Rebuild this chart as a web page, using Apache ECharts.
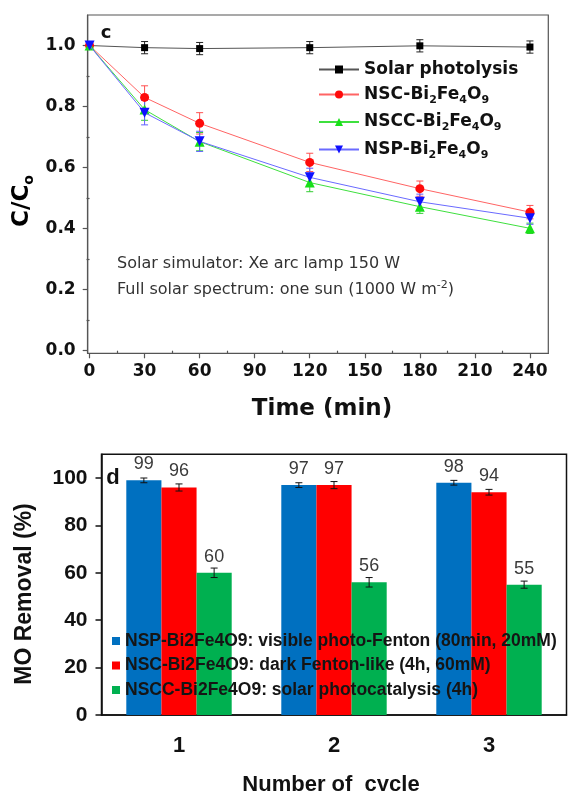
<!DOCTYPE html>
<html>
<head>
<meta charset="utf-8">
<script src="https://cdn.jsdelivr.net/npm/echarts@6/dist/echarts.min.js"></script>
<style>
  html, body { margin: 0; padding: 0; background: #fff; }
  #chart { width: 568px; height: 791px; }
</style>
</head>
<body>
<div id="chart"></div>
<script>
// ---- Panel c: photodegradation kinetics (C/C0 vs time) ----
const times = [0, 30, 60, 120, 180, 240];
const photolysis    = [1.0, 0.993, 0.990, 0.993, 0.999, 0.995];
const photolysisErr = [0, 0.02, 0.02, 0.02, 0.02, 0.02];
const nsc    = [1.0, 0.830, 0.745, 0.617, 0.531, 0.454];
const nscErr = [0, 0.038, 0.035, 0.030, 0.025, 0.022];
const nscc    = [1.0, 0.790, 0.685, 0.551, 0.472, 0.401];
const nsccErr = [0, 0.035, 0.030, 0.030, 0.022, 0.017];
const nsp    = [1.0, 0.780, 0.686, 0.568, 0.488, 0.434];
const nspErr = [0, 0.040, 0.033, 0.030, 0.025, 0.020];

const timeTicks = [0, 30, 60, 90, 120, 150, 180, 210, 240];
const timeMinorTicks = [15, 45, 75, 105, 135, 165, 195, 225];
const ratioTicks = [0, 0.2, 0.4, 0.6, 0.8, 1.0];
const ratioMinorTicks = [0.1, 0.3, 0.5, 0.7, 0.9];

// ---- Panel d: MO removal over reuse cycles ----
const cycles = ['1', '2', '3'];
const nspRemoval     = [99, 97, 98];
const nspRemovalErr  = [1.0, 1.0, 1.0];
const nscRemoval     = [96, 97, 94];
const nscRemovalErr  = [1.5, 1.5, 1.2];
const nsccRemoval    = [60, 56, 55];
const nsccRemovalErr = [2.0, 2.0, 1.5];
const removalTicks = [0, 20, 40, 60, 80, 100];

const lineNames = ['Solar photolysis', 'NSC-Bi2Fe4O9', 'NSCC-Bi2Fe4O9', 'NSP-Bi2Fe4O9'];
const barNames = [
  'NSP-Bi2Fe4O9: visible photo-Fenton (80min, 20mM)',
  'NSC-Bi2Fe4O9: dark Fenton-like (4h, 60mM)',
  'NSCC-Bi2Fe4O9: solar photocatalysis (4h)'
];

const WIDE = '"DejaVu Sans", sans-serif';
const ARIAL = '"Liberation Sans", Arial, sans-serif';
const BAR_GAP_RATIO = 0.32;

function pairs(xs, ys) { return xs.map((x, i) => [x, ys[i]]); }
function errRows(xs, ys, es) {
  const out = [];
  xs.forEach((x, i) => { if (es[i] > 0) out.push([x, ys[i] - es[i], ys[i] + es[i]]); });
  return out;
}

// vertical error bar with caps for the kinetics panel
function lineErrRenderer(color, capHalf) {
  return function (params, api) {
    const lo = api.coord([api.value(0), api.value(1)]);
    const hi = api.coord([api.value(0), api.value(2)]);
    const st = { stroke: color, lineWidth: 1 };
    return {
      type: 'group',
      children: [
        { type: 'line', shape: { x1: lo[0], y1: lo[1], x2: hi[0], y2: hi[1] }, style: st },
        { type: 'line', shape: { x1: hi[0] - capHalf, y1: hi[1], x2: hi[0] + capHalf, y2: hi[1] }, style: st },
        { type: 'line', shape: { x1: lo[0] - capHalf, y1: lo[1], x2: lo[0] + capHalf, y2: lo[1] }, style: st }
      ]
    };
  };
}

function errSeries(name, xs, ys, es, color) {
  return {
    name: name + ' err', type: 'custom', xAxisIndex: 0, yAxisIndex: 0,
    data: errRows(xs, ys, es), renderItem: lineErrRenderer(color, 3.5),
    z: 2, silent: true
  };
}

// error bars for grouped bars: value(0)=category, value(3)=slot in group
function barErrRenderer(params, api) {
  const cat = api.value(0);
  const band = api.size([1, 0])[0];
  const bw = band * (1 - BAR_GAP_RATIO) / 3;
  const off = (api.value(3) - 1) * bw;
  const lo = api.coord([cat, api.value(1)]);
  const hi = api.coord([cat, api.value(2)]);
  const x = lo[0] + off;
  const st = { stroke: '#111', lineWidth: 1 };
  return {
    type: 'group',
    children: [
      { type: 'line', shape: { x1: x, y1: lo[1], x2: x, y2: hi[1] }, style: st },
      { type: 'line', shape: { x1: x - 3.5, y1: hi[1], x2: x + 3.5, y2: hi[1] }, style: st },
      { type: 'line', shape: { x1: x - 3.5, y1: lo[1], x2: x + 3.5, y2: lo[1] }, style: st }
    ]
  };
}

const barErrData = [];
[[nspRemoval, nspRemovalErr], [nscRemoval, nscRemovalErr], [nsccRemoval, nsccRemovalErr]]
  .forEach(([vals, errs], slot) => {
    vals.forEach((v, i) => barErrData.push([i, v - errs[i], v + errs[i], slot]));
  });

function legendRich(name) {
  if (name.indexOf('Bi2Fe4O9') < 0) return '{m|' + name + '}';
  const head = name.replace('Bi2Fe4O9', '');
  return '{m|' + head + 'Bi}{s|2}{m|Fe}{s|4}{m|O}{s|9}';
}

const tickFontTop = { fontFamily: WIDE, fontWeight: 'bold', fontSize: 17, color: '#111' };
const tickFontBot = { fontFamily: ARIAL, fontWeight: 'bold', fontSize: 22, color: '#111' };

function barLabel() {
  return {
    show: true, position: 'top', distance: 7,
    fontFamily: ARIAL, fontSize: 18, color: '#3a3a3a'
  };
}

const chart = echarts.init(document.getElementById('chart'), null, { renderer: 'canvas' });

chart.setOption({
  animation: false,
  backgroundColor: '#fff',
  grid: [
    { left: 87.7, top: 15, right: 19.7, bottom: 437.7, show: true, borderColor: '#555', borderWidth: 1.2 },
    { left: 101.5, top: 454.3, right: 1.5, bottom: 76, show: true, borderColor: '#111', borderWidth: 1.5 }
  ],
  xAxis: [
    {
      type: 'value', gridIndex: 0, position: 'bottom', min: -1, max: 250,
      axisLine: { onZero: false, lineStyle: { color: '#555', width: 1.2 } },
      axisTick: { customValues: timeTicks, length: 5, lineStyle: { color: '#555', width: 1.2 } },
      axisLabel: Object.assign({ customValues: timeTicks, margin: 10 }, tickFontTop),
      splitLine: { show: false }
    },
    {
      type: 'value', gridIndex: 0, position: 'bottom', min: -1, max: 250,
      axisLine: { show: false },
      axisTick: { customValues: timeMinorTicks, length: 3, lineStyle: { color: '#555', width: 1.2 } },
      axisLabel: { show: false },
      splitLine: { show: false }
    },
    {
      type: 'category', gridIndex: 1, data: cycles,
      axisLine: { lineStyle: { color: '#111', width: 1.5 } },
      axisTick: { length: 8, lineStyle: { color: '#111', width: 1.5 } },
      axisLabel: Object.assign({ margin: 20 }, tickFontBot),
      splitLine: { show: false }
    }
  ],
  yAxis: [
    {
      type: 'value', gridIndex: 0, position: 'left', min: -0.0085, max: 1.1,
      axisLine: { show: true, onZero: false, lineStyle: { color: '#555', width: 1.2 } },
      axisTick: { show: true, customValues: ratioTicks, length: 5, lineStyle: { color: '#555', width: 1.2 } },
      axisLabel: Object.assign({ customValues: ratioTicks, margin: 12, formatter: v => v.toFixed(1) }, tickFontTop),
      splitLine: { show: false }
    },
    {
      type: 'value', gridIndex: 0, position: 'left', min: -0.0085, max: 1.1,
      axisLine: { show: false },
      axisTick: { show: true, customValues: ratioMinorTicks, length: 3, lineStyle: { color: '#555', width: 1.2 } },
      axisLabel: { show: false },
      splitLine: { show: false }
    },
    {
      type: 'value', gridIndex: 1, min: 0, max: 110,
      axisLine: { show: true, lineStyle: { color: '#111', width: 1.5 } },
      axisTick: { show: true, customValues: removalTicks, length: 6, lineStyle: { color: '#111', width: 1.5 } },
      axisLabel: Object.assign({ customValues: removalTicks, margin: 14 }, tickFontBot, { fontSize: 21 }),
      splitLine: { show: false }
    }
  ],
  legend: [
    {
      data: lineNames, orient: 'vertical', left: 313, top: 56,
      itemWidth: 40, itemHeight: 10, itemGap: 8, selectedMode: false,
      formatter: legendRich,
      textStyle: {
        rich: {
          m: { fontFamily: WIDE, fontWeight: 'bold', fontSize: 17, color: '#111', lineHeight: 22 },
          s: { fontFamily: WIDE, fontWeight: 'bold', fontSize: 11, color: '#111', lineHeight: 14, verticalAlign: 'bottom' }
        }
      }
    },
    {
      data: barNames, orient: 'vertical', left: 107, top: 626,
      icon: 'rect', itemWidth: 8, itemHeight: 8, itemGap: 4.5, selectedMode: false,
      textStyle: { fontFamily: ARIAL, fontWeight: 'bold', fontSize: 17.5, color: '#151515', lineHeight: 20 }
    }
  ],
  graphic: [
    { type: 'text', x: 106, y: 33, style: { text: 'c', x: 0, y: 0, align: 'center', verticalAlign: 'middle', font: 'bold 18px "DejaVu Sans", sans-serif', fill: '#111' } },
    { type: 'text', x: 117, y: 263.5, style: { text: 'Solar simulator: Xe arc lamp 150 W', verticalAlign: 'middle', font: '16px "DejaVu Sans", sans-serif', fill: '#333' } },
    {
      type: 'text', x: 117, y: 290,
      style: {
        text: '{t|Full solar spectrum: one sun (1000 W m}{u|-2}{t|)}', verticalAlign: 'middle',
        rich: {
          t: { fontFamily: WIDE, fontSize: 16, fill: '#333', color: '#333', lineHeight: 20 },
          u: { fontFamily: WIDE, fontSize: 11, fill: '#333', color: '#333', lineHeight: 12, verticalAlign: 'top' }
        }
      }
    },
    {
      type: 'text', x: 22, y: 201, rotation: Math.PI / 2,
      style: {
        text: '{m|C/C}{s|o}', align: 'center', verticalAlign: 'middle',
        rich: {
          m: { fontFamily: WIDE, fontWeight: 'bold', fontSize: 23, color: '#111', lineHeight: 28 },
          s: { fontFamily: WIDE, fontWeight: 'bold', fontSize: 14, color: '#111', lineHeight: 18, verticalAlign: 'bottom' }
        }
      }
    },
    { type: 'text', x: 322, y: 409, style: { text: 'Time (min)', align: 'center', verticalAlign: 'middle', font: 'bold 23px "DejaVu Sans", sans-serif', fill: '#111' } },
    { type: 'text', x: 113, y: 478, style: { text: 'd', align: 'center', verticalAlign: 'middle', font: 'bold 22px "Liberation Sans", Arial, sans-serif', fill: '#111' } },
    { type: 'text', x: 25, y: 594, rotation: Math.PI / 2, style: { text: 'MO Removal (%)', align: 'center', verticalAlign: 'middle', font: 'bold 23px "Liberation Sans", Arial, sans-serif', fill: '#111' } },
    { type: 'text', x: 331, y: 785, style: { text: 'Number of  cycle', align: 'center', verticalAlign: 'middle', font: 'bold 22px "Liberation Sans", Arial, sans-serif', fill: '#111' } }
  ],
  series: [
    errSeries('Solar photolysis', times, photolysis, photolysisErr, '#222'),
    errSeries('NSC', times, nsc, nscErr, '#ff5050'),
    errSeries('NSCC', times, nscc, nsccErr, '#33cc33'),
    errSeries('NSP', times, nsp, nspErr, '#6060ff'),
    {
      name: lineNames[0], type: 'line', xAxisIndex: 0, yAxisIndex: 0, data: pairs(times, photolysis),
      symbol: 'rect', symbolSize: 7, lineStyle: { color: '#555', width: 1 }, itemStyle: { color: '#000' }, z: 3
    },
    {
      name: lineNames[1], type: 'line', xAxisIndex: 0, yAxisIndex: 0, data: pairs(times, nsc),
      symbol: 'circle', symbolSize: 9, lineStyle: { color: '#ff6464', width: 1 }, itemStyle: { color: '#ff0a0a' }, z: 3
    },
    {
      name: lineNames[2], type: 'line', xAxisIndex: 0, yAxisIndex: 0, data: pairs(times, nscc),
      symbol: 'triangle', symbolSize: 10, lineStyle: { color: '#3ee03e', width: 1 }, itemStyle: { color: '#18e018' }, z: 3
    },
    {
      name: lineNames[3], type: 'line', xAxisIndex: 0, yAxisIndex: 0, data: pairs(times, nsp),
      symbol: 'triangle', symbolRotate: 180, symbolSize: 10, lineStyle: { color: '#6a6aff', width: 1 }, itemStyle: { color: '#1010ff' }, z: 4
    },
    {
      name: barNames[0], type: 'bar', xAxisIndex: 2, yAxisIndex: 2, data: nspRemoval,
      barGap: '0%', barCategoryGap: (BAR_GAP_RATIO * 100) + '%', itemStyle: { color: '#0070C0' }, label: barLabel()
    },
    {
      name: barNames[1], type: 'bar', xAxisIndex: 2, yAxisIndex: 2, data: nscRemoval,
      barGap: '0%', barCategoryGap: (BAR_GAP_RATIO * 100) + '%', itemStyle: { color: '#FF0000' }, label: barLabel()
    },
    {
      name: barNames[2], type: 'bar', xAxisIndex: 2, yAxisIndex: 2, data: nsccRemoval,
      barGap: '0%', barCategoryGap: (BAR_GAP_RATIO * 100) + '%', itemStyle: { color: '#00B050' }, label: barLabel()
    },
    {
      name: 'removal err', type: 'custom', xAxisIndex: 2, yAxisIndex: 2,
      data: barErrData, renderItem: barErrRenderer, z: 3, silent: true
    }
  ]
});
</script>
</body>
</html>
